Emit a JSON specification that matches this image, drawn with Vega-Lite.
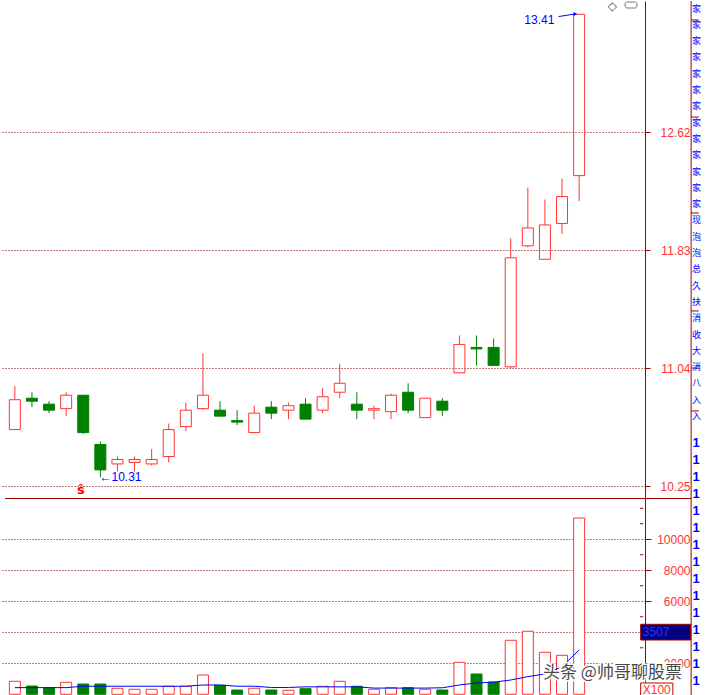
{
  "$schema": "https://vega.github.io/schema/vega-lite/v6.json",
  "padding": 0,
  "spacing": 0,
  "bounds": "flush",
  "background": "white",
  "config": {"view": {"stroke": null}, "font": "Liberation Sans"},
  "data": {"values": [
    {"day":1,"open":10.63,"high":10.92,"low":10.63,"close":10.83,"volume":839,"ma10":430},
    {"day":2,"open":10.84,"high":10.88,"low":10.78,"close":10.82,"volume":535,"ma10":430},
    {"day":3,"open":10.80,"high":10.82,"low":10.74,"close":10.76,"volume":426,"ma10":430},
    {"day":4,"open":10.77,"high":10.88,"low":10.72,"close":10.86,"volume":774,"ma10":430},
    {"day":5,"open":10.86,"high":10.86,"low":10.60,"close":10.61,"volume":664,"ma10":520},
    {"day":6,"open":10.53,"high":10.55,"low":10.31,"close":10.36,"volume":664,"ma10":520},
    {"day":7,"open":10.40,"high":10.45,"low":10.35,"close":10.43,"volume":387,"ma10":520},
    {"day":8,"open":10.41,"high":10.45,"low":10.35,"close":10.43,"volume":323,"ma10":520},
    {"day":9,"open":10.40,"high":10.50,"low":10.39,"close":10.43,"volume":323,"ma10":520},
    {"day":10,"open":10.45,"high":10.67,"low":10.41,"close":10.63,"volume":516,"ma10":520},
    {"day":11,"open":10.65,"high":10.81,"low":10.62,"close":10.76,"volume":516,"ma10":520},
    {"day":12,"open":10.77,"high":11.14,"low":10.76,"close":10.86,"volume":1245,"ma10":600},
    {"day":13,"open":10.76,"high":10.82,"low":10.72,"close":10.72,"volume":580,"ma10":600},
    {"day":14,"open":10.69,"high":10.76,"low":10.66,"close":10.68,"volume":277,"ma10":520},
    {"day":15,"open":10.61,"high":10.79,"low":10.61,"close":10.74,"volume":387,"ma10":520},
    {"day":16,"open":10.78,"high":10.82,"low":10.70,"close":10.74,"volume":277,"ma10":440},
    {"day":17,"open":10.76,"high":10.81,"low":10.70,"close":10.79,"volume":258,"ma10":440},
    {"day":18,"open":10.80,"high":10.84,"low":10.70,"close":10.70,"volume":361,"ma10":480},
    {"day":19,"open":10.76,"high":10.91,"low":10.74,"close":10.85,"volume":516,"ma10":480},
    {"day":20,"open":10.88,"high":11.07,"low":10.84,"close":10.94,"volume":839,"ma10":480},
    {"day":21,"open":10.80,"high":10.88,"low":10.70,"close":10.76,"volume":516,"ma10":480},
    {"day":22,"open":10.76,"high":10.79,"low":10.70,"close":10.77,"volume":323,"ma10":400},
    {"day":23,"open":10.75,"high":10.87,"low":10.70,"close":10.86,"volume":426,"ma10":400},
    {"day":24,"open":10.88,"high":10.94,"low":10.74,"close":10.76,"volume":426,"ma10":400},
    {"day":25,"open":10.71,"high":10.84,"low":10.71,"close":10.84,"volume":323,"ma10":400},
    {"day":26,"open":10.82,"high":10.84,"low":10.72,"close":10.76,"volume":277,"ma10":420},
    {"day":27,"open":11.01,"high":11.26,"low":11.01,"close":11.20,"volume":2064,"ma10":600},
    {"day":28,"open":11.18,"high":11.26,"low":11.06,"close":11.17,"volume":1310,"ma10":730},
    {"day":29,"open":11.18,"high":11.24,"low":11.06,"close":11.06,"volume":793,"ma10":780},
    {"day":30,"open":11.05,"high":11.91,"low":11.04,"close":11.78,"volume":3483,"ma10":920},
    {"day":31,"open":11.86,"high":12.25,"low":11.85,"close":11.98,"volume":4064,"ma10":1140},
    {"day":32,"open":11.77,"high":12.17,"low":11.77,"close":12.00,"volume":2709,"ma10":1310},
    {"day":33,"open":12.01,"high":12.31,"low":11.94,"close":12.19,"volume":2516,"ma10":1780},
    {"day":34,"open":12.33,"high":13.41,"low":12.16,"close":13.41,"volume":11372,"ma10":2860}
  ]},
  "vconcat": [
    {
      "width": 645,
      "height": 497,
      "layer": [
        {
          "mark": {"type": "rule", "strokeWidth": 1},
          "encoding": {
            "x": {"field": "day", "type": "quantitative", "scale": {"domain": [0.424, 37.56]}, "axis": null},
            "y": {"field": "high", "type": "quantitative", "scale": {"domain": [10.172, 13.499], "nice": false, "zero": false}, "title": null,
              "axis": {"orient": "right", "values": [10.25, 11.04, 11.83, 12.62], "format": ".2f", "domainColor": "#a00000", "tickColor": "#a00000", "tickSize": 5, "labelColor": "#ff3333", "labelFont": "Liberation Sans", "labelFontSize": 12, "labelAlign": "right", "labelPadding": 40, "labelBaseline": "middle", "labelOverlap": false, "labelFlush": false, "grid": true, "gridColor": "#800000", "gridDash": [1, 2], "gridOpacity": 1}},
            "y2": {"field": "close"},
            "color": {"condition": {"test": "datum.close > datum.open", "value": "#ff3333"}, "value": "#008000"}
          }
        },
        {
          "mark": {"type": "rule", "strokeWidth": 1},
          "encoding": {
            "x": {"field": "day", "type": "quantitative", "scale": {"domain": [0.424, 37.56]}, "axis": null},
            "y": {"field": "open", "type": "quantitative", "scale": {"domain": [10.172, 13.499], "nice": false, "zero": false}, "title": null},
            "y2": {"field": "low"},
            "color": {"condition": {"test": "datum.close > datum.open", "value": "#ff3333"}, "value": "#008000"}
          }
        },
        {
          "mark": {"type": "bar", "width": 11, "strokeWidth": 1},
          "encoding": {
            "x": {"field": "day", "type": "quantitative", "scale": {"domain": [0.424, 37.56]}, "axis": null},
            "y": {"field": "open", "type": "quantitative", "scale": {"domain": [10.172, 13.499], "nice": false, "zero": false}, "title": null},
            "y2": {"field": "close"},
            "fill": {"condition": {"test": "datum.close > datum.open", "value": "transparent"}, "value": "#008000"},
            "stroke": {"condition": {"test": "datum.close > datum.open", "value": "#ff3333"}, "value": "#008000"}
          }
        },
        {
          "data": {"values": [{"label": "13.41"}]},
          "mark": {"type": "text", "align": "right", "baseline": "middle", "fontSize": 12, "font": "Liberation Sans", "color": "#0000ff"},
          "encoding": {
            "x": {"datum": 32.55, "type": "quantitative", "scale": {"domain": [0.424, 37.56]}, "axis": null},
            "y": {"datum": 13.375, "type": "quantitative", "scale": {"domain": [10.172, 13.499], "nice": false, "zero": false}, "title": null},
            "text": {"field": "label"}
          }
        },
        {
          "data": {"values": [{}]},
          "mark": {"type": "rule", "strokeWidth": 1, "color": "#0000ff"},
          "encoding": {
            "x": {"datum": 32.8, "type": "quantitative", "scale": {"domain": [0.424, 37.56]}, "axis": null},
            "x2": {"datum": 33.75},
            "y": {"datum": 13.395, "type": "quantitative", "scale": {"domain": [10.172, 13.499], "nice": false, "zero": false}, "title": null},
            "y2": {"datum": 13.412}
          }
        },
        {
          "data": {"values": [{}]},
          "mark": {"type": "point", "shape": "triangle-right", "filled": true, "size": 18, "color": "#0000ff", "opacity": 1},
          "encoding": {
            "x": {"datum": 33.78, "type": "quantitative", "scale": {"domain": [0.424, 37.56]}, "axis": null},
            "y": {"datum": 13.412, "type": "quantitative", "scale": {"domain": [10.172, 13.499], "nice": false, "zero": false}, "title": null}
          }
        },
        {
          "data": {"values": [{"label": "←10.31"}]},
          "mark": {"type": "text", "align": "left", "baseline": "middle", "fontSize": 12, "font": "Liberation Sans", "color": "#0000ff"},
          "encoding": {
            "x": {"datum": 5.95, "type": "quantitative", "scale": {"domain": [0.424, 37.56]}, "axis": null},
            "y": {"datum": 10.313, "type": "quantitative", "scale": {"domain": [10.172, 13.499], "nice": false, "zero": false}, "title": null},
            "text": {"field": "label"}
          }
        },
        {
          "data": {"values": [{"label": "ŝ"}]},
          "mark": {"type": "text", "align": "center", "baseline": "middle", "fontSize": 13, "fontWeight": "bold", "font": "DejaVu Sans", "color": "#ff0000"},
          "encoding": {
            "x": {"datum": 4.86, "type": "quantitative", "scale": {"domain": [0.424, 37.56]}, "axis": null},
            "y": {"datum": 10.225, "type": "quantitative", "scale": {"domain": [10.172, 13.499], "nice": false, "zero": false}, "title": null},
            "text": {"field": "label"}
          }
        },
        {
          "data": {"values": [{"label": "◇"}]},
          "mark": {"type": "text", "align": "center", "baseline": "top", "fontSize": 12, "font": "DejaVu Sans", "color": "#555555"},
          "encoding": {
            "x": {"datum": 35.95, "type": "quantitative", "scale": {"domain": [0.424, 37.56]}, "axis": null},
            "y": {"datum": 13.499, "type": "quantitative", "scale": {"domain": [10.172, 13.499], "nice": false, "zero": false}, "title": null},
            "text": {"field": "label"}
          }
        },
        {
          "data": {"values": [{}]},
          "mark": {"type": "rect", "fill": "#ffffff", "stroke": "#777777", "strokeWidth": 1, "cornerRadius": 2},
          "encoding": {
            "x": {"datum": 36.69, "type": "quantitative", "scale": {"domain": [0.424, 37.56]}, "axis": null},
            "x2": {"datum": 37.38},
            "y": {"datum": 13.492, "type": "quantitative", "scale": {"domain": [10.172, 13.499], "nice": false, "zero": false}, "title": null},
            "y2": {"datum": 13.452}
          }
        },
        {
          "data": {"values": [{}]},
          "mark": {"type": "rule", "strokeWidth": 1, "color": "#a00000"},
          "encoding": {
            "x": {"datum": 0.424, "type": "quantitative", "scale": {"domain": [0.424, 37.56]}, "axis": null},
            "x2": {"datum": 40.55},
            "y": {"datum": 10.1687, "type": "quantitative", "scale": {"domain": [10.172, 13.499], "nice": false, "zero": false}, "title": null}
          }
        },
        {
          "data": {"values": [{}]},
          "mark": {"type": "rule", "strokeWidth": 1, "color": "#a00000"},
          "encoding": {
            "x": {"datum": 40.55, "type": "quantitative", "scale": {"domain": [0.424, 37.56]}, "axis": null},
            "y": {"datum": 13.499, "type": "quantitative", "scale": {"domain": [10.172, 13.499], "nice": false, "zero": false}, "title": null},
            "y2": {"datum": 10.172}
          }
        },
        {
          "data": {"values": [{"price": 13.372}, {"price": 12.722}, {"price": 12.08}, {"price": 11.424}, {"price": 11.042}, {"price": 10.755}]},
          "mark": {"type": "rule", "strokeWidth": 1, "color": "#a00000"},
          "encoding": {
            "x": {"datum": 40.55, "type": "quantitative", "scale": {"domain": [0.424, 37.56]}, "axis": null},
            "x2": {"datum": 41.0},
            "y": {"field": "price", "type": "quantitative", "scale": {"domain": [10.172, 13.499], "nice": false, "zero": false}, "title": null}
          }
        },
        {
          "data": {"values": [{}]},
          "mark": {"type": "text", "align": "center", "baseline": "top", "fontSize": 9, "lineHeight": 16.3, "font": "Noto Sans CJK SC", "color": "#0000ff"},
          "encoding": {
            "x": {"datum": 40.86, "type": "quantitative", "scale": {"domain": [0.424, 37.56]}, "axis": null},
            "y": {"datum": 13.475, "type": "quantitative", "scale": {"domain": [10.172, 13.499], "nice": false, "zero": false}, "title": null},
            "text": {"value": ["家", "家", "家", "家", "家", "家", "家", "家", "家", "家", "家", "家", "家", "现", "泡", "泡", "总", "久", "扶", "消", "收", "大", "消", "八", "入", "入"]}
          }
        },
        {
          "data": {"values": [{}]},
          "mark": {"type": "text", "align": "center", "baseline": "top", "fontSize": 13, "fontWeight": "bold", "lineHeight": 17, "font": "Liberation Sans", "color": "#0000ff"},
          "encoding": {
            "x": {"datum": 40.84, "type": "quantitative", "scale": {"domain": [0.424, 37.56]}, "axis": null},
            "y": {"datum": 10.581, "type": "quantitative", "scale": {"domain": [10.172, 13.499], "nice": false, "zero": false}, "title": null},
            "text": {"value": ["1", "1", "1", "1", "1", "1", "1", "1", "1", "1", "1", "1", "1", "1", "1"]}
          }
        }
      ]
    },
    {
      "width": 645,
      "height": 198,
      "layer": [
        {
          "mark": {"type": "bar", "width": 11, "strokeWidth": 1},
          "encoding": {
            "x": {"field": "day", "type": "quantitative", "scale": {"domain": [0.424, 37.56]}, "axis": null},
            "y": {"field": "volume", "type": "quantitative", "scale": {"domain": [-110, 12661], "nice": false, "zero": false}, "title": null,
              "axis": {"orient": "right", "values": [2000, 4000, 6000, 8000, 10000], "format": "d",
                "domainColor": "#a00000", "tickColor": "#a00000", "tickSize": 6,
                "labelColor": "#ff3333", "labelFont": "Liberation Sans", "labelFontSize": 12, "labelAlign": "right", "labelPadding": 39, "labelBaseline": "middle", "labelOverlap": false, "labelFlush": false,
                "grid": true, "gridColor": "#800000", "gridDash": [1, 2], "gridOpacity": 1}},
            "y2": {"datum": 0},
            "fill": {"condition": {"test": "datum.close > datum.open", "value": "#ffffff"}, "value": "#008000"},
            "stroke": {"condition": {"test": "datum.close > datum.open", "value": "#ff3333"}, "value": "#008000"}
          }
        },
        {
          "mark": {"type": "line", "strokeWidth": 1, "color": "#0000ff"},
          "encoding": {
            "x": {"field": "day", "type": "quantitative", "scale": {"domain": [0.424, 37.56]}, "axis": null},
            "y": {"field": "ma10", "type": "quantitative", "scale": {"domain": [-110, 12661], "nice": false, "zero": false}, "title": null}
          }
        },
        {
          "data": {"values": [{"v": 1000}, {"v": 3000}, {"v": 5000}, {"v": 7000}, {"v": 9000}, {"v": 11000}, {"v": 12000}]},
          "mark": {"type": "rule", "strokeWidth": 1, "color": "#a00000"},
          "encoding": {
            "x": {"datum": 37.56, "type": "quantitative", "scale": {"domain": [0.424, 37.56]}, "axis": null},
            "x2": {"datum": 37.75},
            "y": {"field": "v", "type": "quantitative", "scale": {"domain": [-110, 12661], "nice": false, "zero": false}, "title": null}
          }
        },
        {
          "data": {"values": [{}]},
          "mark": {"type": "rect", "fill": "#000080", "stroke": "#a00000", "strokeWidth": 1},
          "encoding": {
            "x": {"datum": 37.6, "type": "quantitative", "scale": {"domain": [0.424, 37.56]}, "axis": null},
            "x2": {"datum": 40.53},
            "y": {"datum": 3502, "type": "quantitative", "scale": {"domain": [-110, 12661], "nice": false, "zero": false}, "title": null},
            "y2": {"datum": 4515}
          }
        },
        {
          "data": {"values": [{"label": "3507"}]},
          "mark": {"type": "text", "align": "left", "baseline": "middle", "fontSize": 12, "font": "Liberation Sans", "color": "#3333ff"},
          "encoding": {
            "x": {"datum": 37.72, "type": "quantitative", "scale": {"domain": [0.424, 37.56]}, "axis": null},
            "y": {"datum": 4008, "type": "quantitative", "scale": {"domain": [-110, 12661], "nice": false, "zero": false}, "title": null},
            "text": {"field": "label"}
          }
        },
        {
          "data": {"values": [{}]},
          "mark": {"type": "rect", "fill": "#ffffff", "stroke": "#c00000", "strokeWidth": 1},
          "encoding": {
            "x": {"datum": 37.6, "type": "quantitative", "scale": {"domain": [0.424, 37.56]}, "axis": null},
            "x2": {"datum": 39.48},
            "y": {"datum": -90, "type": "quantitative", "scale": {"domain": [-110, 12661], "nice": false, "zero": false}, "title": null},
            "y2": {"datum": 729}
          }
        },
        {
          "data": {"values": [{"label": "X100"}]},
          "mark": {"type": "text", "align": "center", "baseline": "middle", "fontSize": 12, "font": "Liberation Sans", "color": "#ff3333"},
          "encoding": {
            "x": {"datum": 38.54, "type": "quantitative", "scale": {"domain": [0.424, 37.56]}, "axis": null},
            "y": {"datum": 300, "type": "quantitative", "scale": {"domain": [-110, 12661], "nice": false, "zero": false}, "title": null},
            "text": {"field": "label"}
          }
        },
        {
          "data": {"values": [{"label": "头条 @帅哥聊股票"}]},
          "mark": {"type": "text", "align": "center", "baseline": "middle", "fontSize": 17, "font": "Noto Sans CJK SC", "fill": "#ffffff", "stroke": "#ffffff", "strokeWidth": 3},
          "encoding": {
            "x": {"datum": 35.95, "type": "quantitative", "scale": {"domain": [0.424, 37.56]}, "axis": null},
            "y": {"datum": 1374, "type": "quantitative", "scale": {"domain": [-110, 12661], "nice": false, "zero": false}, "title": null},
            "text": {"field": "label"}
          }
        },
        {
          "data": {"values": [{"label": "头条 @帅哥聊股票"}]},
          "mark": {"type": "text", "align": "center", "baseline": "middle", "fontSize": 17, "font": "Noto Sans CJK SC", "color": "#4a4a4a"},
          "encoding": {
            "x": {"datum": 35.95, "type": "quantitative", "scale": {"domain": [0.424, 37.56]}, "axis": null},
            "y": {"datum": 1374, "type": "quantitative", "scale": {"domain": [-110, 12661], "nice": false, "zero": false}, "title": null},
            "text": {"field": "label"}
          }
        },
        {
          "data": {"values": [{}]},
          "mark": {"type": "rule", "strokeWidth": 1, "color": "#a00000"},
          "encoding": {
            "x": {"datum": 40.55, "type": "quantitative", "scale": {"domain": [0.424, 37.56]}, "axis": null},
            "y": {"datum": 12661, "type": "quantitative", "scale": {"domain": [-110, 12661], "nice": false, "zero": false}, "title": null},
            "y2": {"datum": -90}
          }
        }
      ]
    }
  ]
}
